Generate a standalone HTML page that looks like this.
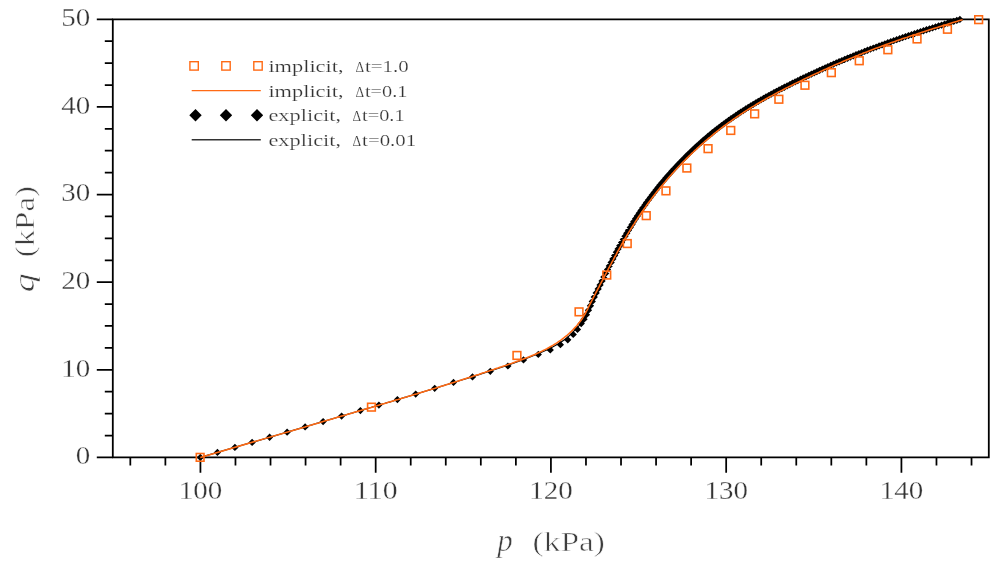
<!DOCTYPE html>
<html lang="en">
<head>
<meta charset="utf-8">
<title>q-p stress path</title>
<style>
html,body{margin:0;padding:0;background:#fff;}
body{width:1005px;height:563px;overflow:hidden;}
svg{display:block;}
svg text{font-family:"Liberation Serif","DejaVu Serif",serif;}
</style>
</head>
<body>
<svg width="1005" height="563" viewBox="0 0 1005 563">
<rect width="1005" height="563" fill="#fff"/>
<g id="axes">
<path d="M112.8,457.4 L112.8,19.3 L988.8,19.3 L988.8,457.4 Z" fill="none" stroke="#000" stroke-width="1.8" stroke-linejoin="miter"/>
<path d="M130.32,457.4 V465.6 M165.38,457.4 V465.6 M200.43,457.4 V472.8 M235.47,457.4 V465.6 M270.52,457.4 V465.6 M305.57,457.4 V465.6 M340.62,457.4 V465.6 M375.68,457.4 V472.8 M410.72,457.4 V465.6 M445.77,457.4 V465.6 M480.82,457.4 V465.6 M515.88,457.4 V465.6 M550.92,457.4 V472.8 M585.97,457.4 V465.6 M621.02,457.4 V465.6 M656.07,457.4 V465.6 M691.12,457.4 V465.6 M726.17,457.4 V472.8 M761.22,457.4 V465.6 M796.27,457.4 V465.6 M831.32,457.4 V465.6 M866.37,457.4 V465.6 M901.42,457.4 V472.8 M936.47,457.4 V465.6 M971.52,457.4 V465.6 M112.8,457.40 H96.8 M112.8,435.50 H104.8 M112.8,413.59 H104.8 M112.8,391.69 H104.8 M112.8,369.78 H96.8 M112.8,347.88 H104.8 M112.8,325.97 H104.8 M112.8,304.06 H104.8 M112.8,282.16 H96.8 M112.8,260.25 H104.8 M112.8,238.35 H104.8 M112.8,216.45 H104.8 M112.8,194.54 H96.8 M112.8,172.64 H104.8 M112.8,150.73 H104.8 M112.8,128.83 H104.8 M112.8,106.92 H96.8 M112.8,85.02 H104.8 M112.8,63.11 H104.8 M112.8,41.21 H104.8 M112.8,19.30 H96.8" fill="none" stroke="#000" stroke-width="1.75"/>
</g>
<g id="series">
<path d="M200.3,457.4 L305.0,426.9 L306.9,426.3 L308.9,425.7 L310.8,425.2 L312.8,424.6 L314.7,424.0 L316.7,423.4 L318.6,422.9 L320.6,422.3 L322.5,421.7 L324.5,421.1 L326.4,420.6 L328.3,420.0 L330.3,419.4 L332.2,418.9 L334.2,418.3 L336.1,417.7 L338.0,417.1 L340.0,416.6 L341.9,416.0 L343.9,415.4 L345.8,414.9 L347.7,414.3 L349.7,413.7 L351.6,413.2 L353.6,412.6 L355.5,412.0 L357.4,411.4 L359.4,410.9 L361.3,410.3 L363.2,409.7 L365.2,409.2 L367.1,408.6 L369.0,408.0 L371.0,407.5 L372.9,406.9 L374.8,406.3 L376.8,405.8 L378.7,405.2 L380.6,404.6 L382.6,404.0 L384.5,403.5 L386.4,402.9 L388.4,402.3 L390.3,401.8 L392.2,401.2 L394.1,400.6 L396.1,400.0 L398.0,399.5 L399.9,398.9 L401.9,398.3 L403.8,397.7 L405.7,397.2 L407.6,396.6 L409.6,396.0 L411.5,395.4 L413.4,394.8 L415.3,394.2 L417.3,393.7 L419.2,393.1 L421.1,392.5 L423.0,391.9 L425.0,391.3 L426.9,390.7 L428.8,390.1 L430.7,389.6 L432.7,389.0 L434.6,388.4 L436.5,387.8 L438.4,387.2 L440.4,386.6 L442.3,386.0 L444.2,385.4 L446.1,384.8 L448.1,384.2 L450.0,383.6 L451.9,383.0 L472.8,376.6 L490.3,370.9 L507.8,365.3 L523.2,359.6 L538.1,353.8 L549.5,348.8 L559.7,343.1 L566.6,338.2 L572.3,332.9 L576.6,328.2 L581.2,323.6 L584.0,319.2 L586.4,314.7 L588.5,310.2 L590.4,305.7 L592.3,301.4 L594.2,297.1 L596.2,293.0 L598.1,288.9 L600.1,284.9 L602.0,280.9 L603.9,277.0 L605.7,273.3 L607.5,269.6 L609.3,265.9 L611.1,262.4 L612.9,259.0 L614.6,255.6 L616.3,252.3 L618.1,249.0 L619.8,245.7 L621.5,242.6 L623.3,239.4 L625.0,236.3 L626.7,233.3 L628.5,230.3 L630.2,227.4 L632.0,224.5 L633.8,221.6 L635.6,218.8 L637.4,216.0 L639.2,213.2 L641.0,210.5 L642.9,207.8 L644.7,205.2 L646.6,202.5 L648.5,200.0 L650.4,197.4 L652.2,194.9 L654.2,192.4 L656.1,189.9 L658.0,187.5 L659.9,185.1 L661.9,182.7 L663.8,180.4 L665.8,178.0 L667.8,175.8 L669.8,173.5 L671.8,171.3 L673.8,169.1 L675.8,166.9 L677.9,164.7 L679.9,162.6 L682.0,160.5 L684.0,158.4 L686.1,156.3 L688.2,154.2 L690.4,152.2 L692.5,150.1 L694.6,148.1 L696.8,146.1 L699.0,144.2 L701.2,142.2 L703.4,140.3 L705.6,138.4 L707.8,136.5 L710.1,134.6 L712.3,132.8 L714.6,130.9 L716.9,129.1 L719.2,127.3 L721.5,125.6 L723.9,123.8 L726.2,122.1 L728.6,120.4 L731.0,118.7 L733.4,117.0 L735.9,115.4 L738.3,113.8 L740.8,112.1 L743.2,110.5 L745.7,109.0 L748.2,107.4 L750.7,105.9 L753.2,104.3 L755.8,102.8 L758.3,101.3 L760.9,99.9 L763.5,98.4 L766.0,97.0 L768.6,95.5 L771.2,94.1 L773.9,92.7 L776.5,91.3 L779.1,89.9 L781.8,88.6 L784.4,87.2 L787.1,85.9 L789.8,84.5 L792.4,83.2 L795.1,81.9 L797.8,80.6 L800.5,79.3 L803.2,78.0 L806.0,76.7 L808.7,75.4 L811.4,74.1 L814.1,72.9 L816.9,71.6 L819.6,70.3 L822.4,69.1 L825.2,67.8 L827.9,66.6 L830.7,65.4 L833.5,64.2 L836.3,63.0 L839.1,61.8 L841.9,60.6 L844.7,59.4 L847.5,58.2 L850.3,57.1 L853.2,55.9 L856.0,54.8 L858.9,53.6 L861.7,52.5 L864.6,51.4 L867.5,50.3 L870.4,49.2 L873.3,48.1 L876.2,47.0 L879.1,45.9 L882.0,44.9 L884.9,43.8 L887.8,42.8 L890.8,41.7 L893.7,40.7 L896.7,39.7 L899.6,38.7 L902.6,37.6 L905.5,36.6 L908.5,35.6 L911.5,34.7 L914.5,33.7 L917.5,32.7 L920.5,31.7 L923.5,30.8 L926.5,29.8 L929.5,28.8 L932.5,27.9 L935.5,26.9 L938.6,26.0 L941.6,25.1 L944.6,24.1 L947.7,23.2 L950.7,22.3 L953.8,21.3 L956.8,20.4 L959.9,19.5" fill="none" stroke="#000" stroke-width="1.2"/>
<path d="M196.7,457.4L200.3,453.8L204.0,457.4L200.3,461.0ZM213.8,452.5L217.4,448.8L221.1,452.5L217.4,456.1ZM231.2,447.4L234.9,443.8L238.6,447.4L234.9,451.1ZM248.4,442.4L252.1,438.8L255.8,442.4L252.1,446.1ZM266.0,437.3L269.6,433.6L273.2,437.3L269.6,440.9ZM283.5,432.2L287.1,428.5L290.8,432.2L287.1,435.8ZM301.5,426.9L305.1,423.2L308.8,426.9L305.1,430.5ZM319.5,421.5L323.1,417.9L326.8,421.5L323.1,425.2ZM338.0,416.1L341.6,412.4L345.2,416.1L341.6,419.7ZM356.8,410.6L360.4,406.9L364.0,410.6L360.4,414.2ZM375.2,405.1L378.9,401.5L382.5,405.1L378.9,408.8ZM393.8,399.6L397.4,396.0L401.0,399.6L397.4,403.3ZM412.1,394.1L415.7,390.5L419.3,394.1L415.7,397.8ZM431.1,388.3L434.7,384.7L438.3,388.3L434.7,392.0ZM449.9,382.5L453.5,378.8L457.1,382.5L453.5,386.1ZM468.9,376.9L472.5,373.2L476.1,376.9L472.5,380.5ZM486.7,371.3L490.3,367.7L493.9,371.3L490.3,374.9ZM504.2,366.0L507.9,362.4L511.5,366.0L507.9,369.6ZM519.9,359.9L523.5,356.2L527.1,359.9L523.5,363.5ZM534.6,354.4L538.3,350.8L541.9,354.4L538.3,358.0ZM546.6,349.9L550.3,346.2L553.9,349.9L550.3,353.5ZM556.8,344.7L560.4,341.1L564.0,344.7L560.4,348.3ZM564.1,339.8L567.8,336.2L571.4,339.8L567.8,343.4ZM569.6,334.5L573.2,330.9L576.9,334.5L573.2,338.1ZM573.9,329.4L577.5,325.8L581.1,329.4L577.5,333.0ZM577.6,323.6L581.2,319.9L584.9,323.6L581.2,327.2ZM580.4,319.2L584.0,315.5L587.7,319.2L584.0,322.8ZM582.8,314.7L586.4,311.0L590.1,314.7L586.4,318.3ZM584.8,310.2L588.5,306.5L592.1,310.2L588.5,313.8ZM586.8,305.7L590.4,302.1L594.1,305.7L590.4,309.4ZM588.6,301.4L592.3,297.7L595.9,301.4L592.3,305.0ZM590.6,297.1L594.2,293.5L597.9,297.1L594.2,300.8ZM592.5,293.0L596.2,289.3L599.8,293.0L596.2,296.6ZM594.5,288.9L598.1,285.2L601.8,288.9L598.1,292.5ZM596.4,284.9L600.1,281.2L603.7,284.9L600.1,288.5ZM598.4,280.9L602.0,277.3L605.7,280.9L602.0,284.6ZM600.2,277.0L603.9,273.4L607.5,277.0L603.9,280.7ZM602.1,273.3L605.7,269.6L609.4,273.3L605.7,276.9ZM603.9,269.6L607.5,265.9L611.2,269.6L607.5,273.2ZM605.7,265.9L609.3,262.3L613.0,265.9L609.3,269.6ZM607.5,262.4L611.1,258.7L614.8,262.4L611.1,266.0ZM609.2,259.0L612.9,255.3L616.5,259.0L612.9,262.6ZM611.0,255.6L614.6,251.9L618.3,255.6L614.6,259.2ZM612.7,252.3L616.3,248.6L620.0,252.3L616.3,255.9ZM614.4,249.0L618.1,245.3L621.7,249.0L618.1,252.6ZM616.1,245.7L619.8,242.1L623.4,245.7L619.8,249.4ZM617.9,242.6L621.5,238.9L625.2,242.6L621.5,246.2ZM619.6,239.4L623.3,235.8L626.9,239.4L623.3,243.1ZM621.3,236.3L625.0,232.7L628.6,236.3L625.0,240.0ZM623.1,233.3L626.7,229.7L630.4,233.3L626.7,237.0ZM624.8,230.3L628.5,226.7L632.1,230.3L628.5,234.0ZM626.6,227.4L630.2,223.7L633.9,227.4L630.2,231.0ZM628.4,224.5L632.0,220.8L635.7,224.5L632.0,228.1ZM630.1,221.6L633.8,217.9L637.4,221.6L633.8,225.2ZM631.9,218.8L635.6,215.1L639.2,218.8L635.6,222.4ZM633.7,216.0L637.4,212.3L641.0,216.0L637.4,219.6ZM635.5,213.2L639.2,209.6L642.8,213.2L639.2,216.9ZM637.4,210.5L641.0,206.8L644.7,210.5L641.0,214.1ZM639.2,207.8L642.9,204.2L646.5,207.8L642.9,211.5ZM641.1,205.2L644.7,201.5L648.4,205.2L644.7,208.8ZM642.9,202.5L646.6,198.9L650.2,202.5L646.6,206.2ZM644.8,200.0L648.5,196.3L652.1,200.0L648.5,203.6ZM646.7,197.4L650.4,193.7L654.0,197.4L650.4,201.0ZM648.6,194.9L652.2,191.2L655.9,194.9L652.2,198.5ZM650.5,192.4L654.2,188.7L657.8,192.4L654.2,196.0ZM652.4,189.9L656.1,186.3L659.7,189.9L656.1,193.6ZM654.3,187.5L658.0,183.8L661.6,187.5L658.0,191.1ZM656.3,185.1L659.9,181.4L663.6,185.1L659.9,188.7ZM658.2,182.7L661.9,179.0L665.5,182.7L661.9,186.3ZM660.2,180.4L663.8,176.7L667.5,180.4L663.8,184.0ZM662.2,178.0L665.8,174.4L669.5,178.0L665.8,181.7ZM664.2,175.8L667.8,172.1L671.5,175.8L667.8,179.4ZM666.2,173.5L669.8,169.9L673.5,173.5L669.8,177.2ZM668.2,171.3L671.8,167.6L675.5,171.3L671.8,174.9ZM670.2,169.1L673.8,165.4L677.5,169.1L673.8,172.7ZM672.2,166.9L675.8,163.2L679.5,166.9L675.8,170.5ZM674.2,164.7L677.9,161.1L681.5,164.7L677.9,168.4ZM676.3,162.6L679.9,158.9L683.6,162.6L679.9,166.2ZM678.3,160.5L682.0,156.8L685.6,160.5L682.0,164.1ZM680.4,158.4L684.0,154.7L687.7,158.4L684.0,162.0ZM682.5,156.3L686.1,152.6L689.8,156.3L686.1,159.9ZM684.6,154.2L688.2,150.6L691.9,154.2L688.2,157.9ZM686.7,152.2L690.4,148.5L694.0,152.2L690.4,155.8ZM688.8,150.1L692.5,146.5L696.1,150.1L692.5,153.8ZM691.0,148.1L694.6,144.5L698.3,148.1L694.6,151.8ZM693.1,146.1L696.8,142.5L700.4,146.1L696.8,149.8ZM695.3,144.2L699.0,140.5L702.6,144.2L699.0,147.8ZM697.5,142.2L701.2,138.6L704.8,142.2L701.2,145.9ZM699.7,140.3L703.4,136.6L707.0,140.3L703.4,143.9ZM701.9,138.4L705.6,134.7L709.2,138.4L705.6,142.0ZM704.2,136.5L707.8,132.8L711.5,136.5L707.8,140.1ZM706.4,134.6L710.1,131.0L713.7,134.6L710.1,138.3ZM708.7,132.8L712.3,129.1L716.0,132.8L712.3,136.4ZM711.0,130.9L714.6,127.3L718.3,130.9L714.6,134.6ZM713.3,129.1L716.9,125.5L720.6,129.1L716.9,132.8ZM715.6,127.3L719.2,123.7L722.9,127.3L719.2,131.0ZM717.9,125.6L721.5,121.9L725.2,125.6L721.5,129.2ZM720.2,123.8L723.9,120.2L727.5,123.8L723.9,127.5ZM722.6,122.1L726.2,118.5L729.9,122.1L726.2,125.8ZM725.0,120.4L728.6,116.7L732.3,120.4L728.6,124.0ZM727.4,118.7L731.0,115.1L734.7,118.7L731.0,122.4ZM729.8,117.0L733.4,113.4L737.1,117.0L733.4,120.7ZM732.2,115.4L735.9,111.7L739.5,115.4L735.9,119.0ZM734.6,113.8L738.3,110.1L741.9,113.8L738.3,117.4ZM737.1,112.1L740.8,108.5L744.4,112.1L740.8,115.8ZM739.6,110.5L743.2,106.9L746.9,110.5L743.2,114.2ZM742.1,109.0L745.7,105.3L749.4,109.0L745.7,112.6ZM744.6,107.4L748.2,103.8L751.9,107.4L748.2,111.1ZM747.1,105.9L750.7,102.2L754.4,105.9L750.7,109.5ZM749.6,104.3L753.2,100.7L756.9,104.3L753.2,108.0ZM752.1,102.8L755.8,99.2L759.4,102.8L755.8,106.5ZM754.7,101.3L758.3,97.7L762.0,101.3L758.3,105.0ZM757.2,99.9L760.9,96.2L764.5,99.9L760.9,103.5ZM759.8,98.4L763.5,94.7L767.1,98.4L763.5,102.0ZM762.4,97.0L766.0,93.3L769.7,97.0L766.0,100.6ZM765.0,95.5L768.6,91.9L772.3,95.5L768.6,99.2ZM767.6,94.1L771.2,90.5L774.9,94.1L771.2,97.8ZM770.2,92.7L773.9,89.1L777.5,92.7L773.9,96.4ZM772.8,91.3L776.5,87.7L780.1,91.3L776.5,95.0ZM775.5,89.9L779.1,86.3L782.8,89.9L779.1,93.6ZM778.1,88.6L781.8,84.9L785.4,88.6L781.8,92.2ZM780.8,87.2L784.4,83.6L788.1,87.2L784.4,90.9ZM783.4,85.9L787.1,82.2L790.7,85.9L787.1,89.5ZM786.1,84.5L789.8,80.9L793.4,84.5L789.8,88.2ZM788.8,83.2L792.4,79.5L796.1,83.2L792.4,86.8ZM791.5,81.9L795.1,78.2L798.8,81.9L795.1,85.5ZM794.2,80.6L797.8,76.9L801.5,80.6L797.8,84.2ZM796.9,79.3L800.5,75.6L804.2,79.3L800.5,82.9ZM799.6,78.0L803.2,74.3L806.9,78.0L803.2,81.6ZM802.3,76.7L806.0,73.0L809.6,76.7L806.0,80.3ZM805.0,75.4L808.7,71.7L812.3,75.4L808.7,79.0ZM807.8,74.1L811.4,70.5L815.1,74.1L811.4,77.8ZM810.5,72.9L814.1,69.2L817.8,72.9L814.1,76.5ZM813.2,71.6L816.9,67.9L820.5,71.6L816.9,75.2ZM816.0,70.3L819.6,66.7L823.3,70.3L819.6,74.0ZM818.7,69.1L822.4,65.4L826.0,69.1L822.4,72.7ZM821.5,67.8L825.2,64.2L828.8,67.8L825.2,71.5ZM824.3,66.6L827.9,63.0L831.6,66.6L827.9,70.3ZM827.1,65.4L830.7,61.7L834.4,65.4L830.7,69.0ZM829.8,64.2L833.5,60.5L837.1,64.2L833.5,67.8ZM832.6,63.0L836.3,59.3L839.9,63.0L836.3,66.6ZM835.4,61.8L839.1,58.1L842.7,61.8L839.1,65.4ZM838.2,60.6L841.9,56.9L845.5,60.6L841.9,64.2ZM841.0,59.4L844.7,55.8L848.3,59.4L844.7,63.1ZM843.9,58.2L847.5,54.6L851.2,58.2L847.5,61.9ZM846.7,57.1L850.3,53.4L854.0,57.1L850.3,60.7ZM849.5,55.9L853.2,52.3L856.8,55.9L853.2,59.6ZM852.4,54.8L856.0,51.1L859.7,54.8L856.0,58.4ZM855.2,53.6L858.9,50.0L862.5,53.6L858.9,57.3ZM858.1,52.5L861.7,48.9L865.4,52.5L861.7,56.2ZM861.0,51.4L864.6,47.7L868.3,51.4L864.6,55.0ZM863.8,50.3L867.5,46.6L871.1,50.3L867.5,53.9ZM866.7,49.2L870.4,45.5L874.0,49.2L870.4,52.8ZM869.6,48.1L873.3,44.4L876.9,48.1L873.3,51.7ZM872.5,47.0L876.2,43.4L879.8,47.0L876.2,50.7ZM875.4,45.9L879.1,42.3L882.7,45.9L879.1,49.6ZM878.3,44.9L882.0,41.2L885.6,44.9L882.0,48.5ZM881.3,43.8L884.9,40.2L888.6,43.8L884.9,47.5ZM884.2,42.8L887.8,39.1L891.5,42.8L887.8,46.4ZM887.1,41.7L890.8,38.1L894.4,41.7L890.8,45.4ZM890.1,40.7L893.7,37.0L897.4,40.7L893.7,44.3ZM893.0,39.7L896.7,36.0L900.3,39.7L896.7,43.3ZM896.0,38.7L899.6,35.0L903.3,38.7L899.6,42.3ZM898.9,37.6L902.6,34.0L906.2,37.6L902.6,41.3ZM901.9,36.6L905.5,33.0L909.2,36.6L905.5,40.3ZM904.9,35.6L908.5,32.0L912.2,35.6L908.5,39.3ZM907.8,34.7L911.5,31.0L915.1,34.7L911.5,38.3ZM910.8,33.7L914.5,30.0L918.1,33.7L914.5,37.3ZM913.8,32.7L917.5,29.0L921.1,32.7L917.5,36.3ZM916.8,31.7L920.5,28.1L924.1,31.7L920.5,35.4ZM919.8,30.8L923.5,27.1L927.1,30.8L923.5,34.4ZM922.8,29.8L926.5,26.1L930.1,29.8L926.5,33.4ZM925.8,28.8L929.5,25.2L933.1,28.8L929.5,32.5ZM928.9,27.9L932.5,24.2L936.2,27.9L932.5,31.5ZM931.9,26.9L935.5,23.3L939.2,26.9L935.5,30.6ZM934.9,26.0L938.6,22.3L942.2,26.0L938.6,29.6ZM937.9,25.1L941.6,21.4L945.2,25.1L941.6,28.7ZM941.0,24.1L944.6,20.5L948.3,24.1L944.6,27.8ZM944.0,23.2L947.7,19.5L951.3,23.2L947.7,26.8ZM947.1,22.3L950.7,18.6L954.4,22.3L950.7,25.9ZM950.1,21.3L953.8,17.7L957.4,21.3L953.8,25.0ZM953.2,20.4L956.8,16.7L960.5,20.4L956.8,24.0ZM956.2,19.5L959.9,15.8L963.5,19.5L959.9,23.1Z" fill="#000"/>
<path d="M200.3,457.4 L305.0,426.9 L306.9,426.3 L308.9,425.7 L310.8,425.2 L312.8,424.6 L314.7,424.0 L316.7,423.4 L318.6,422.9 L320.6,422.3 L322.5,421.7 L324.5,421.1 L326.4,420.6 L328.3,420.0 L330.3,419.4 L332.2,418.9 L334.2,418.3 L336.1,417.7 L338.0,417.1 L340.0,416.6 L341.9,416.0 L343.9,415.4 L345.8,414.9 L347.7,414.3 L349.7,413.7 L351.6,413.2 L353.6,412.6 L355.5,412.0 L357.4,411.4 L359.4,410.9 L361.3,410.3 L363.2,409.7 L365.2,409.2 L367.1,408.6 L369.0,408.0 L371.0,407.5 L372.9,406.9 L374.8,406.3 L376.8,405.8 L378.7,405.2 L380.6,404.6 L382.6,404.0 L384.5,403.5 L386.4,402.9 L388.4,402.3 L390.3,401.8 L392.2,401.2 L394.1,400.6 L396.1,400.0 L398.0,399.5 L399.9,398.9 L401.9,398.3 L403.8,397.7 L405.7,397.2 L407.6,396.6 L409.6,396.0 L411.5,395.4 L413.4,394.8 L415.3,394.2 L417.3,393.7 L419.2,393.1 L421.1,392.5 L423.0,391.9 L425.0,391.3 L426.9,390.7 L428.8,390.1 L430.7,389.6 L432.7,389.0 L434.6,388.4 L436.5,387.8 L438.4,387.2 L440.4,386.6 L442.3,386.0 L444.2,385.4 L446.1,384.8 L448.1,384.2 L450.0,383.6 L451.9,383.0 L453.8,382.4 L455.7,381.8 L457.7,381.2 L459.6,380.5 L461.5,379.9 L463.4,379.3 L465.3,378.7 L467.3,378.1 L469.2,377.5 L471.1,376.9 L473.0,376.2 L475.0,375.6 L476.9,375.0 L478.8,374.4 L480.7,373.7 L482.6,373.1 L484.6,372.5 L486.5,371.8 L488.4,371.2 L490.3,370.5 L492.2,369.9 L494.2,369.3 L496.1,368.6 L498.0,368.0 L499.9,367.3 L501.8,366.7 L503.8,366.0 L505.7,365.4 L507.6,364.7 L509.5,364.0 L511.4,363.4 L513.4,362.7 L515.3,362.0 L517.2,361.3 L519.1,360.7 L521.0,360.0 L522.9,359.2 L524.8,358.5 L526.7,357.8 L528.6,357.1 L530.5,356.3 L532.3,355.5 L534.2,354.7 L536.0,353.9 L537.9,353.1 L539.7,352.3 L541.5,351.4 L543.3,350.5 L545.1,349.6 L546.9,348.7 L548.7,347.7 L550.4,346.8 L552.2,345.8 L553.9,344.7 L555.6,343.7 L557.3,342.6 L558.9,341.4 L560.6,340.3 L562.2,339.1 L563.8,337.9 L565.4,336.6 L567.0,335.3 L568.5,334.0 L570.0,332.7 L571.5,331.3 L572.9,329.9 L574.3,328.4 L575.7,326.9 L577.0,325.4 L578.3,323.8 L579.5,322.3 L580.7,320.7 L581.9,319.0 L583.0,317.4 L584.0,315.7 L585.0,314.0 L586.0,312.2 L586.9,310.5 L587.8,308.8 L588.6,307.0 L589.5,305.2 L590.4,303.4 L591.3,301.6 L592.2,299.8 L593.2,298.0 L594.1,296.2 L595.1,294.3 L596.0,292.5 L597.0,290.7 L597.9,288.9 L598.9,287.1 L599.8,285.2 L600.8,283.4 L601.7,281.6 L602.7,279.8 L603.6,278.0 L604.6,276.2 L605.5,274.4 L606.5,272.6 L607.4,270.8 L608.3,269.0 L609.3,267.2 L610.2,265.4 L611.2,263.6 L612.1,261.8 L613.1,260.1 L614.0,258.3 L615.0,256.5 L616.0,254.8 L616.9,253.0 L617.9,251.2 L618.9,249.5 L619.9,247.7 L620.8,246.0 L621.8,244.2 L622.8,242.5 L623.8,240.7 L624.8,239.0 L625.9,237.3 L626.9,235.5 L627.9,233.8 L628.9,232.1 L630.0,230.4 L631.0,228.7 L632.1,227.0 L633.2,225.3 L634.3,223.6 L635.3,221.9 L636.4,220.2 L637.6,218.5 L638.7,216.8 L639.8,215.2 L640.9,213.5 L642.1,211.8 L643.2,210.2 L644.4,208.5 L645.6,206.9 L646.7,205.2 L647.9,203.6 L649.1,202.0 L650.3,200.4 L651.5,198.8 L652.8,197.1 L654.0,195.5 L655.2,193.9 L656.5,192.3 L657.7,190.8 L659.0,189.2 L660.3,187.6 L661.6,186.0 L662.9,184.5 L664.2,182.9 L665.5,181.4 L666.8,179.8 L668.1,178.3 L669.4,176.8 L670.8,175.3 L672.1,173.8 L673.5,172.3 L674.8,170.8 L676.2,169.3 L677.6,167.8 L679.0,166.3 L680.4,164.9 L681.8,163.4 L683.2,161.9 L684.6,160.5 L686.0,159.1 L687.5,157.6 L688.9,156.2 L690.4,154.8 L691.8,153.4 L693.3,152.0 L694.7,150.6 L696.2,149.3 L697.7,147.9 L699.2,146.5 L700.7,145.2 L702.2,143.8 L703.7,142.5 L705.2,141.2 L706.8,139.9 L708.3,138.5 L709.9,137.3 L711.4,136.0 L713.0,134.7 L714.5,133.4 L716.1,132.2 L717.7,130.9 L719.3,129.7 L720.9,128.4 L722.5,127.2 L724.1,126.0 L725.7,124.8 L727.3,123.6 L728.9,122.4 L730.6,121.3 L732.2,120.1 L733.8,118.9 L735.5,117.8 L737.1,116.7 L738.8,115.6 L740.5,114.4 L742.2,113.3 L743.8,112.3 L745.5,111.2 L747.2,110.1 L748.9,109.0 L750.6,108.0 L752.3,106.9 L754.1,105.9 L755.8,104.8 L757.5,103.8 L759.2,102.8 L761.0,101.8 L762.7,100.8 L764.5,99.8 L766.2,98.8 L768.0,97.8 L769.7,96.8 L771.5,95.9 L773.3,94.9 L775.0,93.9 L776.8,93.0 L778.6,92.0 L780.4,91.1 L782.2,90.2 L784.0,89.2 L785.8,88.3 L787.6,87.4 L789.4,86.5 L791.2,85.6 L793.0,84.7 L794.8,83.8 L796.6,82.9 L798.4,82.0 L800.3,81.1 L802.1,80.2 L803.9,79.3 L805.7,78.4 L807.6,77.5 L809.4,76.7 L811.3,75.8 L813.1,74.9 L814.9,74.1 L816.8,73.2 L818.6,72.4 L820.5,71.5 L822.3,70.7 L824.2,69.8 L826.1,69.0 L827.9,68.1 L829.8,67.3 L831.6,66.5 L833.5,65.6 L835.4,64.8 L837.2,64.0 L839.1,63.2 L841.0,62.4 L842.8,61.6 L844.7,60.8 L846.6,60.0 L848.4,59.2 L850.3,58.4 L852.2,57.7 L854.1,56.9 L855.9,56.1 L857.8,55.4 L859.7,54.6 L861.6,53.9 L863.4,53.1 L865.3,52.4 L867.2,51.7 L869.1,50.9 L870.9,50.2 L872.8,49.5 L874.7,48.8 L876.6,48.1 L878.4,47.4 L880.3,46.7 L882.2,46.0 L884.1,45.3 L885.9,44.6 L887.8,43.9 L889.7,43.3 L891.6,42.6 L893.5,41.9 L895.4,41.3 L897.3,40.6 L899.1,39.9 L901.0,39.3 L902.9,38.6 L904.8,38.0 L906.7,37.4 L908.6,36.7 L910.5,36.1 L912.4,35.4 L914.3,34.8 L916.2,34.2 L918.1,33.5 L920.0,32.9 L921.9,32.3 L923.8,31.7 L925.8,31.1 L927.7,30.4 L929.6,29.8 L931.5,29.2 L933.4,28.6 L935.4,28.0 L937.3,27.4 L939.2,26.8 L941.2,26.2 L943.1,25.6 L945.1,25.0 L947.0,24.4 L948.9,23.8 L950.9,23.2 L952.9,22.6 L954.8,22.0 L956.8,21.4 L958.7,20.8 L960.7,20.2 L962.6,19.7" fill="none" stroke="#ff6a14" stroke-width="1.6" stroke-linejoin="round"/>
<g fill="none" stroke="#ff6a14" stroke-width="1.6"><rect x="196.3" y="453.5" width="7.7" height="7.7"/><rect x="367.6" y="403.3" width="7.7" height="7.7"/><rect x="513.1" y="351.6" width="7.7" height="7.7"/><rect x="575.2" y="308.0" width="7.7" height="7.7"/><rect x="602.9" y="271.2" width="7.7" height="7.7"/><rect x="623.4" y="239.7" width="7.7" height="7.7"/><rect x="642.4" y="211.8" width="7.7" height="7.7"/><rect x="662.1" y="187.0" width="7.7" height="7.7"/><rect x="683.0" y="164.2" width="7.7" height="7.7"/><rect x="704.2" y="144.8" width="7.7" height="7.7"/><rect x="726.9" y="126.6" width="7.7" height="7.7"/><rect x="750.8" y="110.0" width="7.7" height="7.7"/><rect x="775.0" y="95.4" width="7.7" height="7.7"/><rect x="801.1" y="81.4" width="7.7" height="7.7"/><rect x="827.5" y="68.8" width="7.7" height="7.7"/><rect x="855.4" y="56.9" width="7.7" height="7.7"/><rect x="884.0" y="45.9" width="7.7" height="7.7"/><rect x="913.2" y="35.1" width="7.7" height="7.7"/><rect x="943.6" y="25.4" width="7.7" height="7.7"/><rect x="974.8" y="15.8" width="7.7" height="7.7"/></g>
</g>
<g id="ticklabels" fill="#343434" stroke="#fff" stroke-width="0.3" paint-order="fill stroke">
<text x="200.5" y="499" text-anchor="middle" font-size="25.5" textLength="43.5" lengthAdjust="spacingAndGlyphs">100</text>
<text x="375.8" y="499" text-anchor="middle" font-size="25.5" textLength="43.5" lengthAdjust="spacingAndGlyphs">110</text>
<text x="551.0" y="499" text-anchor="middle" font-size="25.5" textLength="43.5" lengthAdjust="spacingAndGlyphs">120</text>
<text x="726.3" y="499" text-anchor="middle" font-size="25.5" textLength="43.5" lengthAdjust="spacingAndGlyphs">130</text>
<text x="901.5" y="499" text-anchor="middle" font-size="25.5" textLength="43.5" lengthAdjust="spacingAndGlyphs">140</text>
<text x="90.2" y="464.1" text-anchor="end" font-size="25.5" textLength="14.5" lengthAdjust="spacingAndGlyphs">0</text>
<text x="90.2" y="376.5" text-anchor="end" font-size="25.5" textLength="29.0" lengthAdjust="spacingAndGlyphs">10</text>
<text x="90.2" y="288.9" text-anchor="end" font-size="25.5" textLength="29.0" lengthAdjust="spacingAndGlyphs">20</text>
<text x="90.2" y="201.2" text-anchor="end" font-size="25.5" textLength="29.0" lengthAdjust="spacingAndGlyphs">30</text>
<text x="90.2" y="113.6" text-anchor="end" font-size="25.5" textLength="29.0" lengthAdjust="spacingAndGlyphs">40</text>
<text x="90.2" y="26.0" text-anchor="end" font-size="25.5" textLength="29.0" lengthAdjust="spacingAndGlyphs">50</text>
</g>
<g id="titles" stroke="#fff" stroke-width="0.55" paint-order="fill stroke">
<text x="497.3" y="551" font-size="31" font-style="italic" fill="#3e3e3e">p</text><text x="532.6" y="551" font-size="27" fill="#3e3e3e" textLength="72.3" lengthAdjust="spacingAndGlyphs">(kPa)</text>
<g transform="translate(33.6,292.3) rotate(-90)"><text x="0" y="0" font-size="29.5" font-style="italic" fill="#3e3e3e" textLength="19" lengthAdjust="spacingAndGlyphs">q</text><text x="35.0" y="0" font-size="27" fill="#3e3e3e" textLength="71.3" lengthAdjust="spacingAndGlyphs">(kPa)</text></g>
</g>
<g id="legend">
<rect x="189.9" y="61.7" width="8.4" height="8.4" fill="none" stroke="#ff6a14" stroke-width="1.4"/>
<rect x="221.8" y="61.7" width="8.4" height="8.4" fill="none" stroke="#ff6a14" stroke-width="1.4"/>
<rect x="253.8" y="61.7" width="8.4" height="8.4" fill="none" stroke="#ff6a14" stroke-width="1.4"/>
<path d="M191.7,90.6 H260.8" stroke="#ff6a14" stroke-width="1.3" fill="none"/>
<path d="M189.3,115.2L195.5,109.0L201.7,115.2L195.5,121.4ZM219.8,115.2L226.0,109.0L232.2,115.2L226.0,121.4ZM250.8,115.2L257.0,109.0L263.2,115.2L257.0,121.4Z" fill="#000"/>
<path d="M191.7,139.8 H260.8" stroke="#333" stroke-width="1.5" fill="none"/>
<text x="268.4" y="72.1" font-size="17.5" textLength="75.2" lengthAdjust="spacingAndGlyphs" fill="#333" stroke="#fff" stroke-width="0.2" paint-order="fill stroke">implicit,</text>
<text x="355.4" y="72.1" font-size="15.4" textLength="8.6" lengthAdjust="spacingAndGlyphs" fill="#333" stroke="#fff" stroke-width="0.2" paint-order="fill stroke">Δ</text>
<text x="364.9" y="72.1" font-size="17.5" textLength="43.7" lengthAdjust="spacingAndGlyphs" fill="#333" stroke="#fff" stroke-width="0.2" paint-order="fill stroke">t=1.0</text>
<text x="268.4" y="96.8" font-size="17.5" textLength="75.2" lengthAdjust="spacingAndGlyphs" fill="#333" stroke="#fff" stroke-width="0.2" paint-order="fill stroke">implicit,</text>
<text x="355.4" y="96.8" font-size="15.4" textLength="8.6" lengthAdjust="spacingAndGlyphs" fill="#333" stroke="#fff" stroke-width="0.2" paint-order="fill stroke">Δ</text>
<text x="364.9" y="96.8" font-size="17.5" textLength="42.5" lengthAdjust="spacingAndGlyphs" fill="#333" stroke="#fff" stroke-width="0.2" paint-order="fill stroke">t=0.1</text>
<text x="268.4" y="121.4" font-size="17.5" textLength="72.7" lengthAdjust="spacingAndGlyphs" fill="#333" stroke="#fff" stroke-width="0.2" paint-order="fill stroke">explicit,</text>
<text x="352.6" y="121.4" font-size="15.4" textLength="8.6" lengthAdjust="spacingAndGlyphs" fill="#333" stroke="#fff" stroke-width="0.2" paint-order="fill stroke">Δ</text>
<text x="362.1" y="121.4" font-size="17.5" textLength="42.5" lengthAdjust="spacingAndGlyphs" fill="#333" stroke="#fff" stroke-width="0.2" paint-order="fill stroke">t=0.1</text>
<text x="268.4" y="146.0" font-size="17.5" textLength="72.7" lengthAdjust="spacingAndGlyphs" fill="#333" stroke="#fff" stroke-width="0.2" paint-order="fill stroke">explicit,</text>
<text x="352.6" y="146.0" font-size="15.4" textLength="8.6" lengthAdjust="spacingAndGlyphs" fill="#333" stroke="#fff" stroke-width="0.2" paint-order="fill stroke">Δ</text>
<text x="362.1" y="146.0" font-size="17.5" textLength="54.0" lengthAdjust="spacingAndGlyphs" fill="#333" stroke="#fff" stroke-width="0.2" paint-order="fill stroke">t=0.01</text>
</g>
</svg>
</body>
</html>
